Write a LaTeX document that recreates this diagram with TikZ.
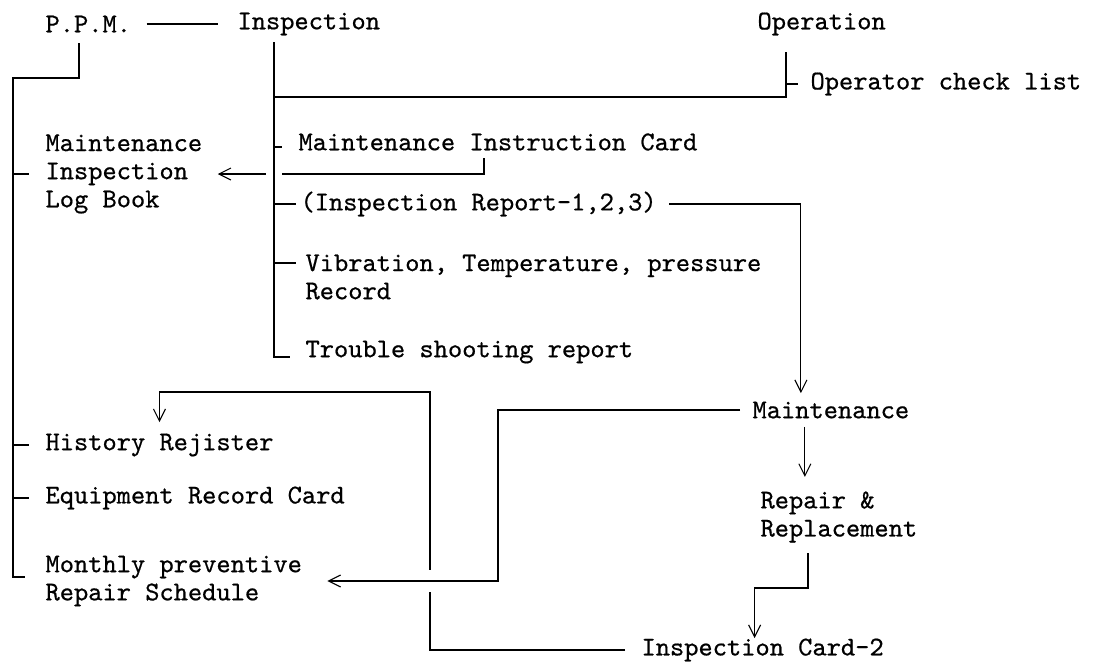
\documentclass[tikz,border=0pt]{standalone}
\usepackage{fontspec}
\usetikzlibrary{arrows.meta}
\newfontfamily\typer[FakeBold=0.6]{lmmono10-regular.otf}

\begin{document}
\begin{tikzpicture}[x=0.25mm, y=-0.25mm, line width=0.75pt,
    >={Straight Barb[length=3mm,width=3mm]},
    item/.style={anchor=west, inner sep=0pt, align=left,
      font=\typer\fontsize{19.3}{20}\selectfont}]
\useasboundingbox (0,0) rectangle (1093,665);

% headings
\node[item] (ppm) at (45,24) {P.P.M.};
\node[item] (insp) at (237,24) {Inspection};
\node[item] (oper) at (757,24) {Operation};
% inspection papers
\node[item] (opcheck) at (810,84) {Operator check list};
\node[item] (mic) at (298,142) {Maintenance Instruction Card};
\node[item] (report) at (300,204) {(Inspection Report-1,2,3)};
\node[item] (vib) at (305,277) {Vibration, Temperature, pressure\\Record};
\node[item] (trouble) at (305,352) {Trouble shooting report};
% P.P.M. records
\node[item] (logbook) at (45,174) {Maintenance\\Inspection\\Log Book};
\node[item] (history) at (45,445) {History Rejister};
\node[item] (equip) at (45,498) {Equipment Record Card};
\node[item] (monthly) at (45,581) {Monthly preventive\\Repair Schedule};
% maintenance side
\node[item] (maint) at (752,410) {Maintenance};
\node[item] (repair) at (760,517) {Repair \&\\Replacement};
\node[item] (card) at (641,650) {Inspection Card-2};

\coordinate (ppmdrop) at (79,43);
\coordinate (ppmbend) at (13,78);
\coordinate (ppmend) at (13,577);
\coordinate (inspspine) at (274,42);
\coordinate (inspend) at (274,357);
\coordinate (operbend) at (786,97);
\coordinate (micdrop) at (484,158);
\coordinate (repbend) at (808,588);
\coordinate (loopx) at (430,392);
\coordinate (mmx) at (498,410);

\draw[shorten <=3.75mm, shorten >=4.75mm] (ppm.east) -- (insp.west);

% P.P.M. spine
\draw (ppmdrop) |- (ppmbend) -- (ppmend) -- ++(12,0);
\foreach \n in {logbook,history,equip}
    \draw (ppmbend |- \n.west) -- ++(16,0);

% card back to the log book (the spine is drawn over the gap)
\draw[->, shorten >=3.75mm] (micdrop) |- (logbook.east);
\fill[white] (266,170) rectangle (282,178);

% inspection spine
\draw (inspspine) -- (inspend) -- ++(16,0);
\draw (inspspine |- mic.west) ++(0,5) -- ++(8,0);
\draw (inspspine |- report.west) -- ++(22,0);
\draw ([yshift=3.5mm]inspspine |- vib.west) -- ++(22,0);
\draw (inspspine |- operbend) -- (operbend) -- ++(0,-45);
\draw (operbend |- opcheck.west) -- ++(12,0);

% reports to maintenance
\draw[->, shorten <=3mm, shorten >=2mm] (report.east) -| ([xshift=-7.5mm]maint.north);
\draw[->, shorten <=2mm, shorten >=3.5mm] ([xshift=-6.5mm]maint.south) -- ([xshift=-6.5mm]maint.south |- repair.north);
\draw[->] ([yshift=-2.5mm]repbend |- repair.south) -- (repbend) -| ([xshift=-2mm]card.north);

% feedback to the records
\draw[->, shorten <=4mm, shorten >=2.75mm] (card.west) -| (loopx) -| (history.north);
\fill[white] (426,570) rectangle (434,592);
\draw[->, shorten <=3mm, shorten >=6.25mm] (maint.west) -- (mmx) |- (monthly.east);
\end{tikzpicture}
\end{document}
